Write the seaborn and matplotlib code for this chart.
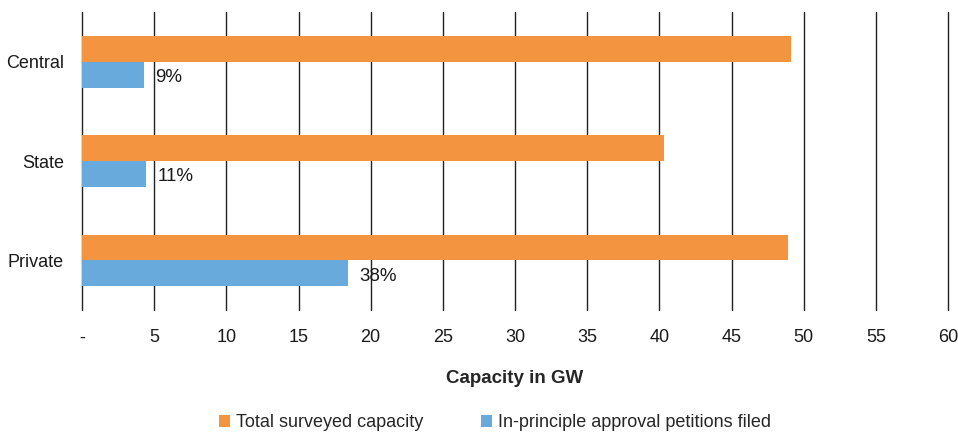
import pandas as pd
import seaborn as sns
import matplotlib.pyplot as plt

sectors = ["Central", "State", "Private"]
total_capacity = [49.1, 40.3, 48.9]
petitions_filed = [4.3, 4.45, 18.45]
share_labels = ["9%", "11%", "38%"]
series_names = ["Total surveyed capacity", "In-principle approval petitions filed"]
x_ticks = list(range(0, 65, 5))
x_tick_labels = ["-"] + [str(t) for t in x_ticks[1:]]

df = pd.DataFrame({
    "sector": sectors * 2,
    "value": total_capacity + petitions_filed,
    "series": [series_names[0]] * 3 + [series_names[1]] * 3,
})

sns.set_style("white")
plt.rcParams["font.family"] = ["Liberation Sans", "DejaVu Sans"]
fs = 13

fig = plt.figure(figsize=(9.58, 4.32), dpi=100)
ax = fig.add_axes([0.0856, 0.2824, 0.904, 0.6898])

sns.barplot(data=df, y="sector", x="value", hue="series", orient="h",
            palette=["#F39540", "#67AADB"], saturation=1, width=0.52, ax=ax,
            edgecolor="none", legend=True)

# percentage labels next to blue bars
blue = ax.containers[1]
for bar, lab in zip(blue, share_labels):
    ax.annotate(lab, (bar.get_width(), bar.get_y() + bar.get_height() / 2),
                xytext=(8, -2), textcoords="offset points",
                ha="left", va="center", fontsize=fs + 0.5, color="#1a1a1a")

ax.set_xlim(0, 60)
ax.set_xticks(x_ticks)
ax.set_xticklabels(x_tick_labels)
ax.grid(axis="x", color="#222222", linewidth=1)
for gl in ax.get_xgridlines():
    gl.set_clip_on(False)
ax.set_axisbelow(True)
for s in ax.spines.values():
    s.set_visible(False)
ax.tick_params(axis="x", length=0, pad=14, labelsize=fs, labelcolor="#1a1a1a")
ax.tick_params(axis="y", length=0, pad=13, labelsize=fs, labelcolor="#1a1a1a")
ax.set_ylabel("")
ax.set_xlabel("Capacity in GW", fontsize=fs + 0.5, fontweight="bold", labelpad=17)

handles, labels = ax.get_legend_handles_labels()
ax.legend(handles, labels, loc="upper center", bbox_to_anchor=(0.477, -0.295),
          ncol=2, frameon=False, fontsize=fs, handlelength=0.6, handleheight=0.6,
          columnspacing=3.2, handletextpad=0.35)

plt.savefig("out.png", dpi=100)
